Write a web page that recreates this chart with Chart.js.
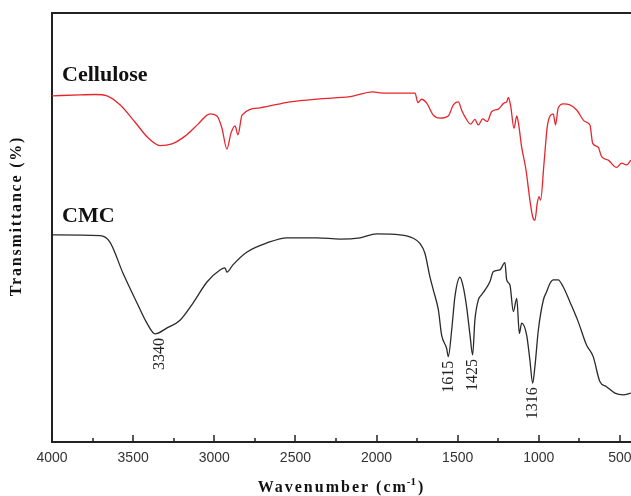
<!DOCTYPE html>
<html><head><meta charset="utf-8">
<script src="https://cdn.jsdelivr.net/npm/chart.js@4/dist/chart.umd.min.js"></script>
<style>html,body{margin:0;padding:0;background:#fff;overflow:hidden}#wrap{width:631px;height:496px;position:relative}</style>
</head><body><div id="wrap"><canvas id="c" width="631" height="496"></canvas></div>
<script>
const celluloseWavenumber = [4000,3827,3735,3661,3581,3489,3408,3335,3261,3180,3100,3026,2983,2953,2922,2897,2872,2854,2829,2718,2533,2349,2164,2022,1979,1856,1763,1745,1722,1691,1650,1609,1558,1527,1496,1476,1455,1420,1394,1373,1346,1318,1291,1250,1215,1198,1188,1173,1153,1136,1124,1106,1079,1055,1038,1024,1010,999,989,968,948,931,911,897,881,850,809,767,716,685,668,634,613,572,521,490,459,433];
const celluloseTransmittance = [80.7,80.9,81.0,80.7,78.6,74.6,70.9,69.1,69.5,71.3,74.1,76.5,76.0,73.2,68.3,72.0,73.7,71.6,76.2,77.9,79.3,80.0,80.5,81.6,81.4,81.3,81.3,79.1,79.9,79.0,76.2,75.5,76.0,78.6,79.3,77.4,75.8,74.1,75.2,73.9,75.3,74.7,77.0,77.6,79.0,79.3,80.3,78.2,73.1,76.0,73.9,68.8,63.4,56.4,52.5,51.7,55.6,57.2,56.4,65.0,73.5,76.0,76.5,73.9,77.8,78.8,78.6,77.4,74.7,73.9,69.6,68.7,66.5,65.7,64.0,65.0,64.6,65.7];
const cmcWavenumber = [4000,3704,3643,3563,3476,3415,3365,3291,3211,3131,3045,2965,2934,2922,2885,2798,2675,2552,2367,2225,2102,2000,1856,1774,1733,1702,1671,1650,1619,1599,1568,1558,1537,1517,1486,1466,1445,1424,1408,1394,1373,1353,1332,1301,1281,1240,1209,1198,1178,1157,1136,1120,1106,1075,1055,1038,1024,1003,972,952,931,911,881,850,809,757,706,665,624,583,531,480,433];
const cmcTransmittance = [48.3,48.1,46.6,39.4,32.4,27.7,25.2,26.6,28.4,32.4,37.3,40.1,40.6,39.6,41.3,44.3,46.4,47.6,47.6,47.3,47.6,48.5,48.3,47.5,46.3,44.0,38.5,35.4,30.8,24.9,21.8,19.9,26.1,33.9,38.4,36.2,31.5,24.9,20.3,28.4,33.1,34.3,35.4,37.4,39.7,40.1,41.8,37.8,36.6,30.4,33.5,25.3,27.7,24.9,19.1,13.7,17.6,26.1,33.1,35.0,37.0,37.8,37.8,36.2,32.7,28.0,22.6,19.9,14.1,12.9,11.4,11.0,11.4];
const majorTicks = [4000,3500,3000,2500,2000,1500,1000,500];
const minorTicks = [3750,3250,2750,2250,1750,1250,750];
const seriesNames = ['Cellulose','CMC'];
const seriesLabelAt = [[3938,85.5],[3938,52.7]];
const peakLabels = ['3340','1615','1425','1316'];
const peakWavenumber = [3335,1556,1406,1040];
const peakTransmittance = [25.2,19.9,20.3,13.7];
const xTitleMain = 'Wavenumber (cm', xTitleSup = '-1', xTitleEnd = ')';
const yTitle = 'Transmittance (%)';

const decor = {
  id: 'decor',
  afterDraw(chart) {
    const {ctx, chartArea: ca} = chart;
    const x = chart.scales.x, y = chart.scales.y;
    ctx.save();
    ctx.strokeStyle = '#222'; ctx.lineWidth = 1.5;
    majorTicks.forEach(v => { const px = Math.round(x.getPixelForValue(v)); ctx.beginPath(); ctx.moveTo(px, ca.bottom); ctx.lineTo(px, ca.bottom - 7); ctx.stroke(); });
    minorTicks.forEach(v => { const px = Math.round(x.getPixelForValue(v)); ctx.beginPath(); ctx.moveTo(px, ca.bottom); ctx.lineTo(px, ca.bottom - 4); ctx.stroke(); });
    ctx.fillStyle = '#111';
    ctx.font = 'bold 22px "Liberation Serif"'; ctx.textBaseline = 'middle'; ctx.textAlign = 'left';
    seriesNames.forEach((n, i) => ctx.fillText(n, x.getPixelForValue(seriesLabelAt[i][0]), y.getPixelForValue(seriesLabelAt[i][1])));
    ctx.font = '16px "Liberation Serif"'; ctx.fillStyle = '#222';
    peakLabels.forEach((t, i) => {
      const px = x.getPixelForValue(peakWavenumber[i]);
      const py = y.getPixelForValue(peakTransmittance[i]) + 4;
      ctx.save(); ctx.translate(px, py); ctx.rotate(-Math.PI / 2);
      ctx.textAlign = 'right'; ctx.textBaseline = 'middle'; ctx.fillText(t, 0, 0); ctx.restore();
    });
    // x title
    ctx.fillStyle = '#111';
    ctx.letterSpacing = '2px';
    ctx.font = 'bold 16px "Liberation Serif"';
    const w1 = ctx.measureText(xTitleMain).width;
    const w3 = ctx.measureText(xTitleEnd).width;
    ctx.font = 'bold 11px "Liberation Serif"';
    ctx.letterSpacing = '0px';
    const w2 = ctx.measureText(xTitleSup).width + 1;
    const total = w1 + w2 + w3;
    let sx = (ca.left + ca.right) / 2 - total / 2;
    const by = 492;
    ctx.textAlign = 'left'; ctx.textBaseline = 'alphabetic';
    ctx.letterSpacing = '2px';
    ctx.font = 'bold 16px "Liberation Serif"';
    ctx.fillText(xTitleMain, sx, by);
    ctx.letterSpacing = '0px';
    ctx.font = 'bold 11px "Liberation Serif"';
    ctx.fillText(xTitleSup, sx + w1 - 1, by - 7);
    ctx.font = 'bold 16px "Liberation Serif"';
    ctx.fillText(xTitleEnd, sx + w1 + w2, by);
    // y title
    ctx.save();
    ctx.translate(17, 216); ctx.rotate(-Math.PI / 2);
    ctx.letterSpacing = '1.8px';
    ctx.font = 'bold 16px "Liberation Serif"';
    ctx.textAlign = 'center'; ctx.textBaseline = 'middle';
    ctx.fillText(yTitle, 0, 0);
    ctx.restore();
    ctx.restore();
  }
};

new Chart(document.getElementById('c'), {
  type: 'line',
  data: {
    datasets: [
      { label: seriesNames[0], data: celluloseWavenumber.map((w, i) => ({x: w, y: celluloseTransmittance[i]})), borderColor: '#e5262d', borderWidth: 1.3, pointRadius: 0, fill: false, cubicInterpolationMode: 'monotone' },
      { label: seriesNames[1], data: cmcWavenumber.map((w, i) => ({x: w, y: cmcTransmittance[i]})), borderColor: '#2a2a2a', borderWidth: 1.3, pointRadius: 0, fill: false, cubicInterpolationMode: 'monotone' }
    ]
  },
  options: {
    responsive: false, animation: false, devicePixelRatio: 1,
    layout: { padding: 0 },
    plugins: { legend: { display: false }, tooltip: { enabled: false } },
    scales: {
      x: {
        type: 'linear', position: 'bottom', reverse: true, min: 432, max: 4000,
        afterBuildTicks(s) { s.ticks = majorTicks.map(v => ({value: v})); },
        afterFit(s) { s.height = 54; s.paddingLeft = 0; s.paddingRight = 0; },
        ticks: { color: '#333', font: { family: '"Liberation Sans"', size: 14 }, padding: 8, maxRotation: 0, autoSkip: false, callback: v => String(v) },
        grid: { display: false, drawTicks: false },
        border: { display: true, width: 2, color: '#222' }
      },
      x2: {
        type: 'linear', position: 'top', reverse: true, min: 432, max: 4000,
        afterFit(s) { s.height = 13; s.paddingLeft = 0; s.paddingRight = 0; },
        ticks: { display: false },
        grid: { display: false, drawTicks: false },
        border: { display: true, width: 2, color: '#222' }
      },
      y: {
        type: 'linear', min: 0, max: 100,
        afterFit(s) { s.width = 52; },
        ticks: { display: false },
        grid: { display: false, drawTicks: false },
        border: { display: true, width: 2, color: '#222' }
      }
    }
  },
  plugins: [decor]
});
</script></body></html>
